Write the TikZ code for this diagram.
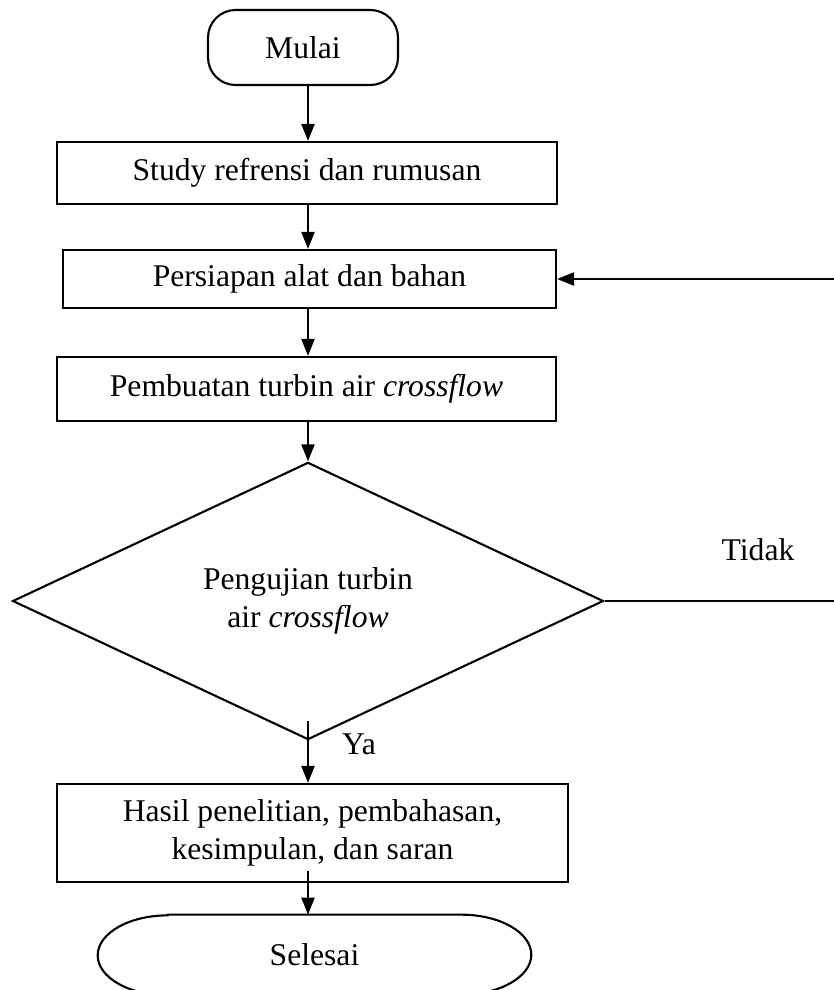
\documentclass[tikz,border=0pt]{standalone}
\usepackage{fontspec}
\setmainfont{Liberation Serif}
\usetikzlibrary{shapes.geometric, arrows.meta}
\tikzstyle{startstop} = [rectangle, rounded corners=0.55cm, minimum width=3.8cm, minimum height=1.5cm, draw, line width=1.2pt]
\tikzstyle{process} = [rectangle, minimum height=1.24cm, draw, line width=1.2pt, align=center]
\tikzstyle{decision} = [diamond, minimum width=11.82cm, minimum height=5.44cm, inner sep=0pt, draw, line width=1.2pt, align=center]
\tikzstyle{arrow} = [line width=1.2pt,-{Triangle[length=3.4mm,width=2.6mm]}]
\tikzstyle{plain} = [line width=0.6pt]

\begin{document}
\begin{tikzpicture}[x=0.02cm, y=-0.02cm, font=\fontsize{18}{22}\selectfont]
\useasboundingbox (0,0) rectangle (834,990);
\node (start) [startstop] at (303,47.5) {Mulai};
\node (study) [process, minimum width=10cm] at (307,173) {Study refrensi dan rumusan};
\node (persiapan) [process, minimum width=9.86cm, minimum height=1.16cm] at (309.5,279) {Persiapan alat dan bahan};
\node (pembuatan) [process, minimum width=9.98cm, minimum height=1.28cm] at (306.5,389) {Pembuatan turbin air \textit{crossflow}};
\node (uji) [decision] at (308,601) {Pengujian turbin\\air \textit{crossflow}};
\node (hasil) [process, minimum width=10.22cm, minimum height=1.96cm] at (312.5,833) {Hasil penelitian, pembahasan,\\kesimpulan, dan saran};
\node (finish) [minimum width=8.66cm, minimum height=1.6cm] at (314.5,955) {Selesai};
\draw[line width=1.2pt] ([xshift=1.4cm]finish.north west) -- ([xshift=-1.4cm]finish.north east)
  arc[start angle=90, end angle=-90, x radius=1.4cm, y radius=0.8cm] -- ([xshift=1.4cm]finish.south west)
  arc[start angle=270, end angle=90, x radius=1.4cm, y radius=0.8cm] -- cycle;
\node (tidak) at (758,550) {Tidak};
\node (ya) at (359,744) {Ya};
\coordinate (edge) at (834,0);

% alur utama
\draw[arrow] (start.south -| uji.north) -- (uji.north |- study.north);
\draw[arrow] (uji.north |- study.south) -- (uji.north |- persiapan.north);
\draw[arrow] (uji.north |- persiapan.south) -- (uji.north |- pembuatan.north);
\draw[arrow] (uji.north |- pembuatan.south) -- (uji.north);
\draw[arrow] ([yshift=0.4cm]uji.south) -- (uji.south |- hasil.north);
\draw[arrow] ([yshift=0.24cm]uji.south |- hasil.south) -- (uji.south |- finish.north);

% kembali jika tidak
\draw[plain] (uji.east) -- (uji.east -| edge);
\draw[arrow] (persiapan.east -| edge) -- (persiapan.east);
\end{tikzpicture}
\end{document}
